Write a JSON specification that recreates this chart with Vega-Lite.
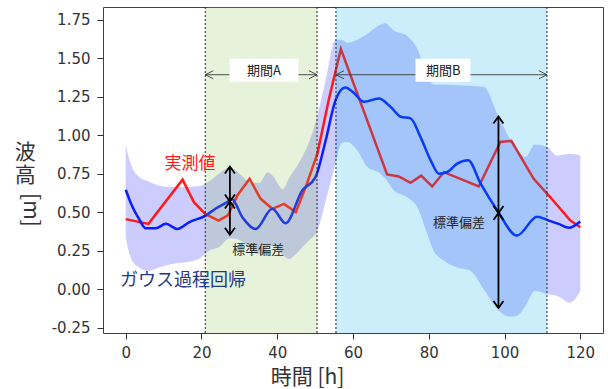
{
  "$schema": "https://vega.github.io/schema/vega-lite/v6.json",
  "width": 500,
  "height": 326,
  "autosize": {"type": "none"},
  "padding": {"left": 103, "top": 7, "right": 5, "bottom": 56},
  "config": {
    "view": {"stroke": "#404040", "strokeWidth": 1},
    "axis": {"grid": false, "domain": false}
  },
  "datasets": {
    "measured": [
      {"hour": 0, "height": 0.455}, {"hour": 6, "height": 0.424}, {"hour": 15, "height": 0.711},
      {"hour": 18, "height": 0.565}, {"hour": 21, "height": 0.489}, {"hour": 24.5, "height": 0.445},
      {"hour": 27, "height": 0.48}, {"hour": 29.5, "height": 0.61}, {"hour": 32.7, "height": 0.717},
      {"hour": 35.6, "height": 0.587}, {"hour": 38.7, "height": 0.522}, {"hour": 41.8, "height": 0.554},
      {"hour": 44.9, "height": 0.5}, {"hour": 47.5, "height": 0.663}, {"hour": 50.6, "height": 0.88},
      {"hour": 53.6, "height": 1.23}, {"hour": 56.8, "height": 1.56}, {"hour": 69, "height": 0.745},
      {"hour": 72.1, "height": 0.732}, {"hour": 75.2, "height": 0.691}, {"hour": 78, "height": 0.737},
      {"hour": 80.9, "height": 0.667}, {"hour": 84, "height": 0.76}, {"hour": 93.2, "height": 0.667},
      {"hour": 98.9, "height": 0.956}, {"hour": 101.8, "height": 0.963}, {"hour": 107.7, "height": 0.717},
      {"hour": 111.7, "height": 0.608}, {"hour": 117.4, "height": 0.445}, {"hour": 120, "height": 0.402}
    ],
    "gpr": [
      {"hour": 0, "height": 0.646}, {"hour": 1.5, "height": 0.55}, {"hour": 3.5, "height": 0.456},
      {"hour": 5.3, "height": 0.395}, {"hour": 7.9, "height": 0.395}, {"hour": 10.6, "height": 0.424},
      {"hour": 13.6, "height": 0.391}, {"hour": 16.7, "height": 0.434}, {"hour": 21.1, "height": 0.478},
      {"hour": 23.7, "height": 0.522}, {"hour": 26.4, "height": 0.56}, {"hour": 28, "height": 0.585},
      {"hour": 30.8, "height": 0.467}, {"hour": 34.3, "height": 0.391}, {"hour": 38.7, "height": 0.522},
      {"hour": 42.2, "height": 0.428}, {"hour": 46.6, "height": 0.641}, {"hour": 50.1, "height": 0.728},
      {"hour": 52.8, "height": 0.967}, {"hour": 55.4, "height": 1.228}, {"hour": 58, "height": 1.31},
      {"hour": 60, "height": 1.28}, {"hour": 62.9, "height": 1.217}, {"hour": 66.8, "height": 1.239},
      {"hour": 69.9, "height": 1.185}, {"hour": 72.6, "height": 1.12}, {"hour": 75.2, "height": 1.109},
      {"hour": 77.8, "height": 0.989}, {"hour": 80.5, "height": 0.837}, {"hour": 82.7, "height": 0.75},
      {"hour": 84.9, "height": 0.761}, {"hour": 87.5, "height": 0.815}, {"hour": 90.4, "height": 0.837},
      {"hour": 93.7, "height": 0.685}, {"hour": 98.1, "height": 0.511}, {"hour": 103.3, "height": 0.348},
      {"hour": 108.6, "height": 0.471}, {"hour": 111.7, "height": 0.445}, {"hour": 114.3, "height": 0.424},
      {"hour": 117, "height": 0.398}, {"hour": 120, "height": 0.439}
    ],
    "band": [
      {"hour": 0, "lower": 0.337, "upper": 0.935}, {"hour": 1.3, "lower": 0.206, "upper": 0.815},
      {"hour": 3.5, "lower": 0.141, "upper": 0.73}, {"hour": 6, "lower": 0.119, "upper": 0.7},
      {"hour": 8.8, "lower": 0.141, "upper": 0.674}, {"hour": 12.3, "lower": 0.163, "upper": 0.663},
      {"hour": 15.8, "lower": 0.174, "upper": 0.663}, {"hour": 19.3, "lower": 0.196, "upper": 0.67},
      {"hour": 22, "lower": 0.25, "upper": 0.7}, {"hour": 24.6, "lower": 0.272, "upper": 0.75},
      {"hour": 27.5, "lower": 0.33, "upper": 0.79}, {"hour": 30.5, "lower": 0.315, "upper": 0.74},
      {"hour": 32.5, "lower": 0.27, "upper": 0.7}, {"hour": 35.2, "lower": 0.228, "upper": 0.69},
      {"hour": 37.5, "lower": 0.27, "upper": 0.76}, {"hour": 38.7, "lower": 0.283, "upper": 0.74},
      {"hour": 41.5, "lower": 0.22, "upper": 0.65}, {"hour": 43.1, "lower": 0.196, "upper": 0.72},
      {"hour": 45, "lower": 0.23, "upper": 0.79}, {"hour": 46.6, "lower": 0.272, "upper": 0.86},
      {"hour": 48.5, "lower": 0.32, "upper": 0.96}, {"hour": 50.6, "lower": 0.38, "upper": 1.13},
      {"hour": 52.8, "lower": 0.576, "upper": 1.36}, {"hour": 55.4, "lower": 0.815, "upper": 1.62},
      {"hour": 57, "lower": 0.95, "upper": 1.62}, {"hour": 58.5, "lower": 0.956, "upper": 1.6},
      {"hour": 61.1, "lower": 0.902, "upper": 1.62}, {"hour": 63.8, "lower": 0.793, "upper": 1.66},
      {"hour": 67.3, "lower": 0.75, "upper": 1.72}, {"hour": 68.5, "lower": 0.72, "upper": 1.728},
      {"hour": 70.8, "lower": 0.641, "upper": 1.68}, {"hour": 74.3, "lower": 0.597, "upper": 1.645},
      {"hour": 77, "lower": 0.532, "upper": 1.56}, {"hour": 79.6, "lower": 0.359, "upper": 1.38},
      {"hour": 81.3, "lower": 0.25, "upper": 1.33}, {"hour": 84, "lower": 0.185, "upper": 1.33},
      {"hour": 87.5, "lower": 0.141, "upper": 1.326}, {"hour": 91, "lower": 0.12, "upper": 1.32},
      {"hour": 94.5, "lower": 0.0, "upper": 1.315}, {"hour": 98.1, "lower": -0.13, "upper": 1.14},
      {"hour": 101.6, "lower": -0.18, "upper": 0.967}, {"hour": 103.5, "lower": -0.17, "upper": 0.9},
      {"hour": 105.5, "lower": -0.11, "upper": 0.858}, {"hour": 108, "lower": -0.011, "upper": 0.94},
      {"hour": 111.3, "lower": -0.033, "upper": 0.924}, {"hour": 113.9, "lower": -0.044, "upper": 0.869},
      {"hour": 117.4, "lower": -0.087, "upper": 0.88}, {"hour": 120, "lower": -0.011, "upper": 0.869}
    ],
    "periods": [
      {"name": "期間A", "start": 21, "end": 50.5, "mid": 36.5, "boxStart": 27.4, "boxEnd": 45.6},
      {"name": "期間B", "start": 55.5, "end": 111.2, "mid": 83.8, "boxStart": 76.5, "boxEnd": 91}
    ],
    "spread": [
      {"hour": 27.5, "mean": 0.569, "lower": 0.353, "upper": 0.797},
      {"hour": 98.4, "mean": 0.494, "lower": -0.123, "upper": 1.122}
    ]
  },
  "layer": [
    {
      "data": {"name": "band"},
      "mark": {"type": "area", "interpolate": "monotone", "color": "#0000ff", "opacity": 0.2},
      "encoding": {
        "x": {
          "field": "hour", "type": "quantitative",
          "scale": {"domain": [-6, 126], "nice": false, "zero": false},
          "axis": {
            "values": [0, 20, 40, 60, 80, 100, 120], "format": "d",
            "title": "時間 [h]", "titleFont": "Noto Sans CJK JP", "titleFontSize": 21,
            "titleFontWeight": "normal", "titleColor": "#333333",
            "titleX": 204, "titleY": 44, "titleAlign": "center", "titleBaseline": "middle",
            "labelFont": "DejaVu Sans", "labelFontSize": 15, "labelColor": "#333333",
            "tickColor": "#333333", "tickSize": 6, "labelPadding": 6
          }
        },
        "y": {
          "field": "lower", "type": "quantitative",
          "scale": {"domain": [-0.285, 1.833], "nice": false, "zero": false},
          "axis": {
            "values": [-0.25, 0, 0.25, 0.5, 0.75, 1, 1.25, 1.5, 1.75],
            "labelExpr": "replace(format(datum.value, '.2f'), '−', '-')",
            "title": null,
            "labelFont": "DejaVu Sans", "labelFontSize": 15, "labelColor": "#333333",
            "tickColor": "#333333", "tickSize": 6, "labelPadding": 7
          }
        },
        "y2": {"field": "upper"}
      }
    },
    {
      "data": {"name": "measured"},
      "mark": {"type": "line", "color": "#ff1a1a", "strokeWidth": 2.5},
      "encoding": {
        "x": {"field": "hour", "type": "quantitative"},
        "y": {"field": "height", "type": "quantitative"}
      }
    },
    {
      "data": {"name": "gpr"},
      "mark": {"type": "line", "interpolate": "monotone", "color": "#0a1eff", "strokeWidth": 2.5},
      "encoding": {
        "x": {"field": "hour", "type": "quantitative"},
        "y": {"field": "height", "type": "quantitative"}
      }
    },
    {
      "data": {"name": "periods"},
      "mark": {"type": "rect", "opacity": 0.2},
      "encoding": {
        "x": {"field": "start", "type": "quantitative"},
        "x2": {"field": "end"},
        "color": {
          "field": "name", "type": "nominal", "legend": null,
          "scale": {"domain": ["期間A", "期間B"], "range": ["#82be46", "#00aae6"]}
        }
      }
    },
    {
      "data": {"name": "periods"},
      "mark": {"type": "rule", "color": "#222222", "strokeWidth": 1, "strokeDash": [2, 2]},
      "encoding": {"x": {"field": "start", "type": "quantitative"}}
    },
    {
      "data": {"name": "periods"},
      "mark": {"type": "rule", "color": "#222222", "strokeWidth": 1, "strokeDash": [2, 2]},
      "encoding": {"x": {"field": "end", "type": "quantitative"}}
    },
    {
      "data": {"name": "periods"},
      "mark": {"type": "rule", "color": "#3a3a3a", "strokeWidth": 0.9},
      "encoding": {
        "x": {"field": "start", "type": "quantitative"},
        "x2": {"field": "end"},
        "y": {"datum": 1.393}
      }
    },
    {
      "data": {"name": "periods"},
      "mark": {"type": "point", "shape": "M2,-1L0,0L2,1", "filled": false, "size": 64, "color": "#3a3a3a", "strokeWidth": 0.9, "opacity": 1},
      "encoding": {
        "x": {"field": "start", "type": "quantitative"},
        "y": {"datum": 1.393}
      }
    },
    {
      "data": {"name": "periods"},
      "mark": {"type": "point", "shape": "M-2,-1L0,0L-2,1", "filled": false, "size": 64, "color": "#3a3a3a", "strokeWidth": 0.9, "opacity": 1},
      "encoding": {
        "x": {"field": "end", "type": "quantitative"},
        "y": {"datum": 1.393}
      }
    },
    {
      "data": {"name": "periods"},
      "mark": {"type": "rect", "color": "white", "opacity": 1},
      "encoding": {
        "x": {"field": "boxStart", "type": "quantitative"},
        "x2": {"field": "boxEnd"},
        "y": {"datum": 1.347},
        "y2": {"datum": 1.497}
      }
    },
    {
      "data": {"name": "periods"},
      "mark": {"type": "text", "font": "Noto Sans CJK JP", "fontSize": 13, "color": "#222222", "baseline": "middle", "align": "center"},
      "encoding": {
        "x": {"field": "mid", "type": "quantitative"},
        "y": {"datum": 1.42},
        "text": {"field": "name"}
      }
    },
    {
      "data": {"name": "spread"},
      "mark": {"type": "rule", "color": "black", "strokeWidth": 1.8},
      "encoding": {
        "x": {"field": "hour", "type": "quantitative"},
        "y": {"field": "lower", "type": "quantitative"},
        "y2": {"field": "upper"}
      }
    },
    {
      "data": {"name": "spread"},
      "mark": {"type": "point", "shape": "M-1,1.4L0,0L1,1.4", "filled": false, "size": 100, "color": "black", "strokeWidth": 1.8, "opacity": 1},
      "encoding": {
        "x": {"field": "hour", "type": "quantitative"},
        "y": {"field": "upper", "type": "quantitative"}
      }
    },
    {
      "data": {"name": "spread"},
      "mark": {"type": "point", "shape": "M-1,-1.4L0,0L1,-1.4", "filled": false, "size": 100, "color": "black", "strokeWidth": 1.8, "opacity": 1},
      "encoding": {
        "x": {"field": "hour", "type": "quantitative"},
        "y": {"field": "mean", "type": "quantitative"}
      }
    },
    {
      "data": {"name": "spread"},
      "mark": {"type": "point", "shape": "M-1,1.4L0,0L1,1.4", "filled": false, "size": 100, "color": "black", "strokeWidth": 1.8, "opacity": 1},
      "encoding": {
        "x": {"field": "hour", "type": "quantitative"},
        "y": {"field": "mean", "type": "quantitative"}
      }
    },
    {
      "data": {"name": "spread"},
      "mark": {"type": "point", "shape": "M-1,-1.4L0,0L1,-1.4", "filled": false, "size": 100, "color": "black", "strokeWidth": 1.8, "opacity": 1},
      "encoding": {
        "x": {"field": "hour", "type": "quantitative"},
        "y": {"field": "lower", "type": "quantitative"}
      }
    },
    {
      "data": {"values": [{"label": "標準偏差", "hour": 35.0, "height": 0.251}, {"label": "標準偏差", "hour": 88.0, "height": 0.429}]},
      "mark": {"type": "text", "font": "Noto Sans CJK JP", "fontSize": 13, "color": "#222222", "align": "center", "baseline": "middle"},
      "encoding": {
        "x": {"field": "hour", "type": "quantitative"},
        "y": {"field": "height", "type": "quantitative"},
        "text": {"field": "label"}
      }
    },
    {
      "data": {"values": [{"label": "実測値", "hour": 17.0, "height": 0.814}]},
      "mark": {"type": "text", "font": "Noto Sans CJK JP", "fontSize": 17, "color": "#ff1a1a", "align": "center", "baseline": "middle"},
      "encoding": {
        "x": {"field": "hour", "type": "quantitative"},
        "y": {"field": "height", "type": "quantitative"},
        "text": {"field": "label"}
      }
    },
    {
      "data": {"values": [{"label": "ガウス過程回帰", "hour": 15.1, "height": 0.05}]},
      "mark": {"type": "text", "font": "Noto Sans CJK JP", "fontSize": 18, "color": "#203a86", "align": "center", "baseline": "middle"},
      "encoding": {
        "x": {"field": "hour", "type": "quantitative"},
        "y": {"field": "height", "type": "quantitative"},
        "text": {"field": "label"}
      }
    },
    {
      "data": {"values": [{"hour": -26.5, "height": 0.883}]},
      "mark": {"type": "text", "text": ["波", "高"], "lineHeight": 23, "font": "Noto Sans CJK JP", "fontSize": 21, "color": "#333333", "align": "center", "baseline": "middle"},
      "encoding": {
        "x": {"field": "hour", "type": "quantitative"},
        "y": {"field": "height", "type": "quantitative"}
      }
    },
    {
      "data": {"values": [{"label": "[m]", "hour": -25.3, "height": 0.515}]},
      "mark": {"type": "text", "font": "Noto Sans CJK JP", "fontSize": 21, "color": "#333333", "align": "center", "baseline": "middle", "angle": 90},
      "encoding": {
        "x": {"field": "hour", "type": "quantitative"},
        "y": {"field": "height", "type": "quantitative"},
        "text": {"field": "label"}
      }
    }
  ]
}
